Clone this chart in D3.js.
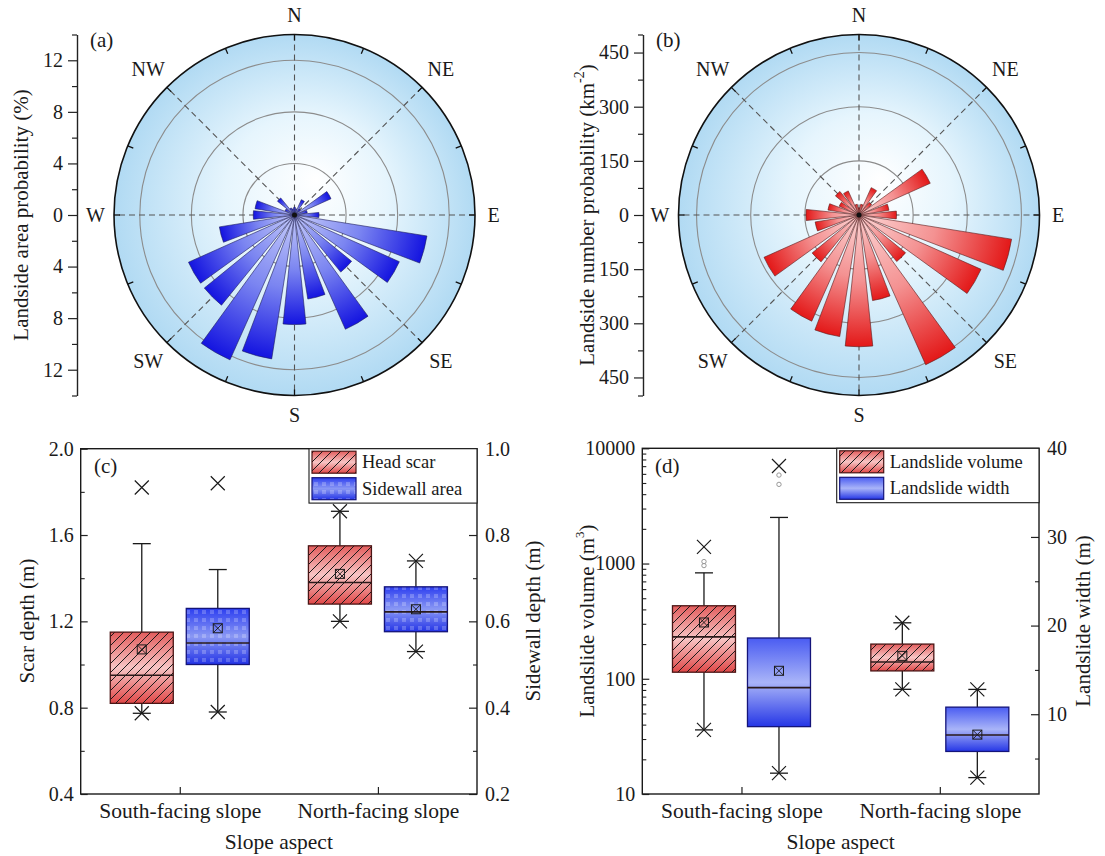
<!DOCTYPE html>
<html>
<head>
<meta charset="utf-8">
<script src="https://cdn.jsdelivr.net/npm/d3@7"></script>
<style>
body{margin:0;background:#fff;}
svg text{font-family:"Liberation Serif","Times New Roman",serif;fill:#1a1a1a;}
</style>
</head>
<body>
<div id="my_dataviz"></div>
<script>
// rose diagrams: bin centre bearing (deg) and values
var bearings = [0,15,30,45,60,75,90,105,120,135,150,165,180,195,210,225,240,255,270,285,300,315,330,345];
var areaProb = [0.6,0.5,1.3,0.6,3.1,1.0,1.9,10.4,8.9,5.7,9.7,6.6,8.5,11.3,12.3,9.0,9.0,5.9,3.2,3.1,0.8,1.7,0.6,0.5];
var numberProb = [20,30,83,45,216,84,104,428,370,166,454,240,365,341,322,167,288,123,147,87,60,84,73,30];
var compass = ["N","NE","E","SE","S","SW","W","NW"];

// box plots: [min, low whisker, q1, median, q3, high whisker, max, mean]
var groups = ["South-facing slope","North-facing slope"];
var headScar = [[0.774,0.774,0.82,0.95,1.15,1.56,1.82,1.07],[1.20,1.20,1.28,1.38,1.55,1.71,1.71,1.42]];
var sidewall = [[0.39,0.39,0.50,0.55,0.63,0.72,0.92,0.584],[0.53,0.53,0.576,0.622,0.68,0.74,0.74,0.628]];
var volume = [[36,36,114,231,430,830,1396,308],[81,81,117,140,200,306,306,158]];
var volumeOut = [[1040,960],[]];
var width = [[3.35,3.35,8.6,13.0,18.6,32.2,38.0,14.9],[2.85,2.85,5.8,7.65,10.8,12.8,12.8,7.7]];
var widthOut = [[36.98,35.93],[]];

var svg = d3.select("#my_dataviz").append("svg")
    .attr("width",1105).attr("height",856);
var defs = svg.append("defs");
var FONT = "Liberation Serif, Times New Roman, serif";

// disc background
var dg = defs.append("radialGradient").attr("id","disc")
    .attr("cx",0.5).attr("cy",0.5).attr("r",0.5).attr("fx",0.56).attr("fy",0.4);
dg.append("stop").attr("offset",0).attr("stop-color","#ffffff");
dg.append("stop").attr("offset",0.45).attr("stop-color","#e6f5fd");
dg.append("stop").attr("offset",1).attr("stop-color","#b1daf3");

// box fills
function vgrad(id, c1, c2, c3){
    var g = defs.append("linearGradient").attr("id",id).attr("x1",0).attr("y1",0).attr("x2",0).attr("y2",1);
    g.append("stop").attr("offset",0).attr("stop-color",c1);
    g.append("stop").attr("offset",0.5).attr("stop-color",c2);
    g.append("stop").attr("offset",1).attr("stop-color",c3);
}
vgrad("redFill","#e35d5d","#f7c4c4","#e04848");
vgrad("blueFillC","#2c3ef0","#8a98f4","#2333e6");
vgrad("blueFillD","#4a5cf2","#a9b4f8","#2536e6");

var hatch = defs.append("pattern").attr("id","hatch").attr("patternUnits","userSpaceOnUse")
    .attr("width",9).attr("height",9);
hatch.append("path").attr("d","M-1,1 l2,-2 M0,9 l9,-9 M8,10 l2,-2")
    .attr("stroke","#1a1a1a").attr("stroke-width",1);

var dots = defs.append("pattern").attr("id","dots").attr("patternUnits","userSpaceOnUse")
    .attr("width",8).attr("height",8);
dots.append("rect").attr("x",2).attr("y",2).attr("width",4).attr("height",4)
    .attr("fill","#ffffff").attr("opacity",0.22);

function rose(cx, cy, maxV, gridVals, minorVals, values, stops, barStroke, axisX, title, tag, id){
    var R = 180.5;
    var r = d3.scaleLinear().domain([0,maxV]).range([0,R]);
    var g = svg.append("g").attr("transform","translate("+cx+","+cy+")");

    g.append("circle").attr("r",R).attr("fill","url(#disc)");

    // grid circles
    g.selectAll(".grid").data(gridVals).enter().append("circle")
        .attr("r",function(d){return r(d);})
        .attr("fill","none").attr("stroke","#8c8c8c").attr("stroke-width",1.1);

    // dashed direction lines
    g.selectAll(".dir").data([0,45,90,135]).enter().append("line")
        .attr("x1",function(d){return R*Math.sin(d*Math.PI/180);})
        .attr("y1",function(d){return -R*Math.cos(d*Math.PI/180);})
        .attr("x2",function(d){return -R*Math.sin(d*Math.PI/180);})
        .attr("y2",function(d){return R*Math.cos(d*Math.PI/180);})
        .attr("stroke","#555").attr("stroke-width",1.1).attr("stroke-dasharray","6,4");

    // bars, each with its own base-to-tip gradient
    var arc = d3.arc().innerRadius(0);
    values.forEach(function(v,i){
        var gr = defs.append("radialGradient").attr("id",id+"g"+i)
            .attr("gradientUnits","userSpaceOnUse").attr("cx",0).attr("cy",0).attr("r",r(v));
        stops.forEach(function(s){ gr.append("stop").attr("offset",s[0]).attr("stop-color",s[1]); });
        var b = bearings[i]*Math.PI/180;
        g.append("path")
            .attr("d",arc({outerRadius:r(v),startAngle:b-6*Math.PI/180,endAngle:b+6*Math.PI/180}))
            .attr("fill","url(#"+id+"g"+i+")")
            .attr("stroke",barStroke).attr("stroke-width",0.6);
    });
    g.append("circle").attr("r",2.5).attr("fill","#111");

    // outer ring and its ticks
    g.append("circle").attr("r",R).attr("fill","none").attr("stroke","#111").attr("stroke-width",1.6);
    g.selectAll(".otick").data(d3.range(0,360,22.5)).enter().append("line")
        .attr("x1",function(d){return R*Math.sin(d*Math.PI/180);})
        .attr("y1",function(d){return -R*Math.cos(d*Math.PI/180);})
        .attr("x2",function(d){return (R-6)*Math.sin(d*Math.PI/180);})
        .attr("y2",function(d){return -(R-6)*Math.cos(d*Math.PI/180);})
        .attr("stroke","#111").attr("stroke-width",1.3);

    // compass labels
    g.selectAll(".lab").data(compass).enter().append("text")
        .attr("x",function(d,i){var rr=(i%2?207:199); return rr*Math.sin(i*45*Math.PI/180);})
        .attr("y",function(d,i){var rr=(i%2?207:200); return -rr*Math.cos(i*45*Math.PI/180);})
        .attr("text-anchor","middle").attr("dominant-baseline","central")
        .style("font-size","20px").text(function(d){return d;});

    // linear radial axis on the left
    var y = d3.scaleLinear().domain([-maxV,maxV]).range([cy+R,cy-R]);
    var ticks = [];
    gridVals.slice().reverse().forEach(function(d){ticks.push(-d);});
    ticks.push(0);
    gridVals.forEach(function(d){ticks.push(d);});
    var minor = [];
    minorVals.forEach(function(d){minor.push(d); minor.push(-d);});
    svg.append("g").attr("transform","translate("+axisX+",0)")
        .call(d3.axisLeft(y).tickValues(minor).tickSize(5).tickFormat("").tickSizeOuter(0))
        .call(function(a){a.select(".domain").remove();})
        .selectAll("line").attr("stroke","#222").attr("stroke-width",1.2);
    var ax = svg.append("g").attr("transform","translate("+axisX+",0)")
        .call(d3.axisLeft(y).tickValues(ticks).tickSize(9).tickPadding(5).tickSizeOuter(0)
            .tickFormat(function(d){return Math.abs(d);}));
    ax.attr("font-family",FONT).attr("font-size",20);
    ax.select(".domain").attr("stroke","#222").attr("stroke-width",1.4);
    ax.selectAll("line").attr("stroke","#222").attr("stroke-width",1.2);

    title(svg.append("text")
        .attr("transform","translate("+(axisX-56)+","+cy+") rotate(-90)")
        .attr("text-anchor","middle").attr("dominant-baseline","central")
        .style("font-size","21px"));

    svg.append("text").attr("x",axisX+13).attr("y",47).style("font-size","21px").text(tag);
}

rose(294.5, 215, 14, [4,8,12], [2,6,10,14], areaProb,
    [[0,"#c6ccfa"],[0.5,"#7b85f1"],[1,"#1414e0"]], "#1c1c5c", 77,
    function(t){t.text("Landside area probability (%)");}, "(a)", "ra");

rose(859, 215, 500, [150,300,450], [75,225,375,500], numberProb,
    [[0,"#fcd6d6"],[0.5,"#f49292"],[1,"#e31818"]], "#5a1a1a", 643,
    function(t){
        t.text("Landside number probability (km");
        t.append("tspan").attr("baseline-shift","super").style("font-size","14px").text("-2");
        t.append("tspan").text(")");
    }, "(b)", "rb");

// ---------- box plot panels ----------
function boxes(g, x, off, data, y, fill, over, stroke, outl){
    var w = 63;
    data.forEach(function(s,i){
        var xc = x(groups[i]) + off;
        var bg = g.append("g");
        // whiskers
        bg.append("line").attr("x1",xc).attr("x2",xc).attr("y1",y(s[1])).attr("y2",y(s[2]))
            .attr("stroke","#1a1a1a").attr("stroke-width",1.3);
        bg.append("line").attr("x1",xc).attr("x2",xc).attr("y1",y(s[4])).attr("y2",y(s[5]))
            .attr("stroke","#1a1a1a").attr("stroke-width",1.3);
        // box
        bg.append("rect").attr("x",xc-w/2).attr("y",y(s[4])).attr("width",w).attr("height",y(s[2])-y(s[4]))
            .attr("fill","url(#"+fill+")");
        if (over){
            bg.append("rect").attr("x",xc-w/2).attr("y",y(s[4])).attr("width",w).attr("height",y(s[2])-y(s[4]))
                .attr("fill","url(#"+over+")");
        }
        bg.append("rect").attr("x",xc-w/2).attr("y",y(s[4])).attr("width",w).attr("height",y(s[2])-y(s[4]))
            .attr("fill","none").attr("stroke",stroke).attr("stroke-width",1.3);
        // median
        bg.append("line").attr("x1",xc-w/2).attr("x2",xc+w/2).attr("y1",y(s[3])).attr("y2",y(s[3]))
            .attr("stroke","#2a1a1a").attr("stroke-width",1.6);
        // mean marker
        var ym = y(s[7]);
        bg.append("rect").attr("x",xc-4.5).attr("y",ym-4.5).attr("width",9).attr("height",9)
            .attr("fill","none").attr("stroke","#1a1a1a").attr("stroke-width",1);
        bg.append("path").attr("d","M"+(xc-4.5)+","+(ym-4.5)+"l9,9M"+(xc+4.5)+","+(ym-4.5)+"l-9,9")
            .attr("stroke","#1a1a1a").attr("stroke-width",0.9);
        // caps
        [s[1],s[5]].forEach(function(v){
            bg.append("line").attr("x1",xc-9).attr("x2",xc+9).attr("y1",y(v)).attr("y2",y(v))
                .attr("stroke","#1a1a1a").attr("stroke-width",1.3);
        });
        // min / max crosses
        [s[0],s[6]].forEach(function(v){
            bg.append("path").attr("d","M"+(xc-7)+","+(y(v)-7)+"l14,14M"+(xc+7)+","+(y(v)-7)+"l-14,14")
                .attr("stroke","#1a1a1a").attr("stroke-width",1.2);
        });
        // outliers
        if (outl){
            outl[i].forEach(function(v){
                bg.append("circle").attr("cx",xc).attr("cy",y(v)).attr("r",2.2)
                    .attr("fill","none").attr("stroke","#999").attr("stroke-width",1);
            });
        }
    });
}

function frameAxes(x0, x1, yTop, yBot, x, yL, yR, lt, lminor, rt, rminor, lfmt, rfmt){
    // left
    svg.append("g").attr("transform","translate("+x0+",0)")
        .call(d3.axisLeft(yL).tickValues(lminor).tickSize(-4).tickFormat("").tickSizeOuter(0))
        .call(function(a){a.select(".domain").remove();})
        .selectAll("line").attr("stroke","#222").attr("stroke-width",1.1);
    var la = svg.append("g").attr("transform","translate("+x0+",0)")
        .call(d3.axisLeft(yL).tickValues(lt).tickSize(-7).tickPadding(7).tickSizeOuter(0).tickFormat(lfmt));
    la.attr("font-family",FONT).attr("font-size",20);
    la.select(".domain").remove();
    la.selectAll("line").attr("stroke","#222").attr("stroke-width",1.2);
    // right
    svg.append("g").attr("transform","translate("+x1+",0)")
        .call(d3.axisRight(yR).tickValues(rminor).tickSize(-4).tickFormat("").tickSizeOuter(0))
        .call(function(a){a.select(".domain").remove();})
        .selectAll("line").attr("stroke","#222").attr("stroke-width",1.1);
    var ra = svg.append("g").attr("transform","translate("+x1+",0)")
        .call(d3.axisRight(yR).tickValues(rt).tickSize(-8).tickPadding(8).tickSizeOuter(0).tickFormat(rfmt));
    ra.attr("font-family",FONT).attr("font-size",20);
    ra.select(".domain").remove();
    ra.selectAll("line").attr("stroke","#222").attr("stroke-width",1.2);
    // bottom
    var ba = svg.append("g").attr("transform","translate(0,"+yBot+")")
        .call(d3.axisBottom(x).tickSize(-7).tickPadding(9).tickSizeOuter(0));
    ba.attr("font-family",FONT).attr("font-size",21.5);
    ba.select(".domain").remove();
    ba.selectAll("line").attr("stroke","#222").attr("stroke-width",1.2);
    // frame
    svg.append("rect").attr("x",x0).attr("y",yTop).attr("width",x1-x0).attr("height",yBot-yTop)
        .attr("fill","none").attr("stroke","#1a1a1a").attr("stroke-width",1.4);
    svg.append("text").attr("x",(x0+x1)/2).attr("y",849).attr("text-anchor","middle")
        .style("font-size","21.5px").text("Slope aspect");
}

function legend(x0, x1, yTop, items){
    var lg = svg.append("g");
    lg.append("rect").attr("x",x0).attr("y",yTop).attr("width",x1-x0).attr("height",54.4)
        .attr("fill","#fff").attr("stroke","#1a1a1a").attr("stroke-width",1.1);
    items.forEach(function(it,i){
        var yy = yTop + 2.5 + i*26.5;
        lg.append("rect").attr("x",x0+3).attr("y",yy).attr("width",44).attr("height",22).attr("fill","url(#"+it.fill+")");
        if (it.over) lg.append("rect").attr("x",x0+3).attr("y",yy).attr("width",44).attr("height",22).attr("fill","url(#"+it.over+")");
        lg.append("rect").attr("x",x0+3).attr("y",yy).attr("width",44).attr("height",22)
            .attr("fill","none").attr("stroke",it.stroke).attr("stroke-width",1.2);
        lg.append("text").attr("x",x0+53).attr("y",yy+17).style("font-size","18.5px").text(it.label);
    });
}

// panel (c)
var cTop = 448.7, cBot = 794, cL = 80.7, cR = 477;
var xc = d3.scalePoint().domain(groups).range([cL,cR]).padding(0.5);
var yScar = d3.scaleLinear().domain([0.4,2.0]).range([cBot,cTop]);
var ySide = d3.scaleLinear().domain([0.2,1.0]).range([cBot,cTop]);
var gc = svg.append("g");
boxes(gc, xc, -38, headScar, yScar, "redFill", "hatch", "#4a1515", null);
boxes(gc, xc, 38, sidewall, ySide, "blueFillC", "dots", "#14147a", null);
frameAxes(cL, cR, cTop, cBot, xc, yScar, ySide,
    [0.4,0.8,1.2,1.6,2.0], [0.6,1.0,1.4,1.8], [0.2,0.4,0.6,0.8,1.0], [0.3,0.5,0.7,0.9],
    d3.format(".1f"), d3.format(".1f"));
legend(309, cR, cTop, [{fill:"redFill",over:"hatch",stroke:"#4a1515",label:"Head scar"},
    {fill:"blueFillC",over:"dots",stroke:"#14147a",label:"Sidewall area"}]);
svg.append("text").attr("x",94).attr("y",473).style("font-size","21px").text("(c)");
svg.append("text").attr("transform","translate(27,621) rotate(-90)").attr("text-anchor","middle")
    .attr("dominant-baseline","central").style("font-size","21px").text("Scar depth (m)");
svg.append("text").attr("transform","translate(533,621) rotate(-90)").attr("text-anchor","middle")
    .attr("dominant-baseline","central").style("font-size","21px").text("Sidewall depth (m)");

// panel (d)
var dTop = 448.3, dBot = 794, dL = 642.3, dR = 1039;
var xd = d3.scalePoint().domain(groups).range([dL,dR]).padding(0.5);
var yVol = d3.scaleLog().domain([10,10000]).range([dBot,dTop]);
var yWid = d3.scaleLinear().domain([1,40]).range([dBot,dTop]);
var gd = svg.append("g");
boxes(gd, xd, -37.5, volume, yVol, "redFill", "hatch", "#4a1515", volumeOut);
boxes(gd, xd, 37.5, width, yWid, "blueFillD", null, "#14147a", widthOut);
var logMinor = [];
[10,100,1000].forEach(function(d){ for (var k=2;k<10;k++) logMinor.push(d*k); });
frameAxes(dL, dR, dTop, dBot, xd, yVol, yWid,
    [10,100,1000,10000], logMinor, [10,20,30,40], [5,15,25,35],
    function(d){return d;}, function(d){return d;});
legend(836.7, dR, dTop, [{fill:"redFill",over:"hatch",stroke:"#4a1515",label:"Landslide volume"},
    {fill:"blueFillD",over:null,stroke:"#14147a",label:"Landslide width"}]);
svg.append("text").attr("x",655).attr("y",473).style("font-size","21px").text("(d)");
var vt = svg.append("text").attr("transform","translate(587,621) rotate(-90)").attr("text-anchor","middle")
    .attr("dominant-baseline","central").style("font-size","21px").text("Landslide volume (m");
vt.append("tspan").attr("baseline-shift","super").style("font-size","13px").text("3");
vt.append("tspan").text(")");
svg.append("text").attr("transform","translate(1083,621) rotate(-90)").attr("text-anchor","middle")
    .attr("dominant-baseline","central").style("font-size","21px").text("Landslide width (m)");
</script>
</body>
</html>
